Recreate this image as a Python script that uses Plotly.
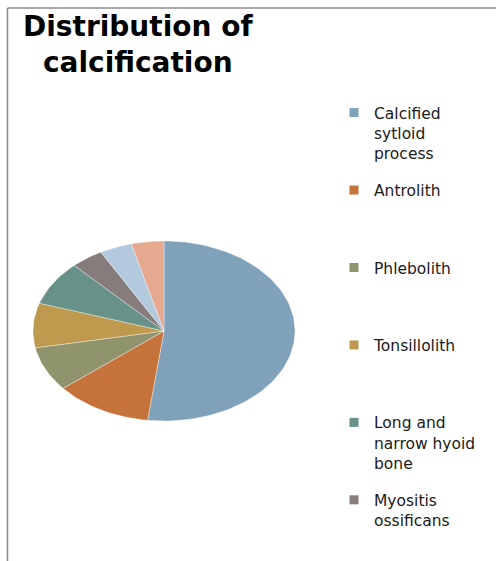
import numpy as np
import plotly.graph_objects as go

categories = ["Calcified sytloid process", "Antrolith", "Phlebolith", "Tonsillolith",
              "Long and narrow hyoid bone", "Myositis ossificans", "Other (1)", "Other (2)"]
legend_labels = ["Calcified<br>sytloid<br>process", "Antrolith<br> <br> ",
                 "Phlebolith<br> <br> ", "Tonsillolith<br> <br> ",
                 "Long and<br>narrow hyoid<br>bone", "Myositis<br>ossificans<br> "]
values = [13, 3, 2, 2, 2, 1, 1, 1]
colors = ["#7FA1BA", "#C5723B", "#8F946C", "#BF9A4E", "#679189", "#857C7B", "#B3CADE", "#E4A98E"]
title_text = "Distribution of<br>calcification"

W, H = 496, 561
cx, cy, rx, ry = 164, 331, 131, 90  # pixel centre/radii of the elliptical pie

fig = go.Figure()
total = sum(values)
start = 0.0
for i, (cat, v, c) in enumerate(zip(categories, values, colors)):
    frac0, frac1 = start / total, (start + v) / total
    start += v
    # clockwise from 12 o'clock
    th = np.linspace(frac0, frac1, max(8, int(200 * (frac1 - frac0)) + 2)) * 2 * np.pi
    xs = np.concatenate([[0], np.sin(th), [0]])
    ys = np.concatenate([[0], np.cos(th), [0]])
    fig.add_trace(go.Scatter(
        x=xs, y=ys, fill="toself", mode="lines", fillcolor=c,
        line=dict(color="rgba(255,255,255,0.6)", width=0.6),
        name=cat, showlegend=False, hoveron="fills",
        text=f"{cat}: {v} ({v/total:.0%})", hoverinfo="text"))

for k, (lab, c) in enumerate(zip(legend_labels, colors)):
    fig.add_trace(go.Scatter(
        x=[None], y=[None], mode="markers", name=lab, legendgroup=f"g{k}",
        marker=dict(symbol="square", size=9, color=c), showlegend=True))

fig.update_layout(
    width=W, height=H,
    margin=dict(l=0, r=0, t=0, b=0),
    paper_bgcolor="white", plot_bgcolor="white",
    xaxis=dict(domain=[(cx - rx) / W, (cx + rx) / W], range=[-1.0, 1.0],
               visible=False, fixedrange=True),
    yaxis=dict(domain=[(H - cy - ry) / H, (H - cy + ry) / H], range=[-1.0, 1.0],
               visible=False, fixedrange=True),
    legend=dict(x=334 / W, xanchor="left", y=1 - 96 / H, yanchor="top",
                valign="top", tracegroupgap=14, itemwidth=30,
                font=dict(family="DejaVu Sans", size=15.5, color="#1a1a1a"),
                bgcolor="rgba(0,0,0,0)"),
    annotations=[dict(text=title_text, xref="paper", yref="paper",
                      x=138 / W, xanchor="center", y=1 - 8 / H, yanchor="top",
                      align="center", showarrow=False,
                      font=dict(family="DejaVu Sans", size=28, color="black", weight="bold"))],
    shapes=[
        dict(type="line", xref="paper", yref="paper", x0=7.5 / W, x1=7.5 / W,
             y0=0, y1=1 - 8 / H, line=dict(color="#8c8c8c", width=1.5)),
        dict(type="line", xref="paper", yref="paper", x0=7.5 / W, x1=1,
             y0=1 - 8 / H, y1=1 - 8 / H, line=dict(color="#8c8c8c", width=1.5)),
    ],
)

fig.write_html("out.html")
